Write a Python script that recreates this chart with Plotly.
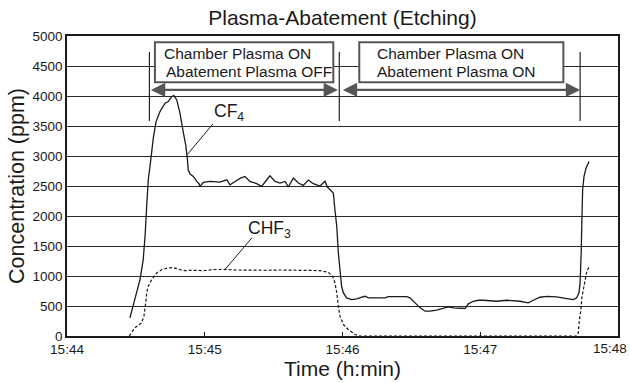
import plotly.graph_objects as go

# time in seconds after 15:44
cf4_t = [27.4, 31.8, 33.2, 34.0, 34.7, 35.4, 36.4, 37.6, 38.8, 40.5, 42.7, 44.1, 45.6, 46.6, 47.8,
         49.2, 50.6, 51.7, 52.4, 52.8, 53.6, 55.0, 56.5, 57.5,
         57.9, 59.4, 62.3, 66.6, 69.6, 71.0, 73.2, 75.6, 77.5, 79.7, 82.6, 84.8, 87.0, 88.4, 90.6,
         92.8, 95.0, 96.4, 98.6, 100.8, 102.9, 105.1, 107.3, 110.2, 112.4, 113.4, 114.6, 116.0,
         116.7, 117.5, 118.2, 118.9, 119.6, 120.4, 121.8, 124.0, 126.2, 128.4, 129.8, 131.3,
         134.9, 138.5, 140.0, 143.6, 148.0, 149.4, 151.6, 153.8, 156.0, 158.1, 161.0, 163.9,
         166.1, 168.3, 170.5, 173.4, 174.8, 177.0, 179.2, 181.3, 187.2, 191.5, 197.3, 200.9,
         203.1, 206.0, 209.0, 213.3, 217.7, 220.5, 222.0, 223.0, 223.5, 223.8, 224.0, 224.3,
         224.6, 225.2, 226.1, 227.4]
cf4_v = [303, 940, 1273, 1661, 2160, 2604, 2909, 3303, 3574, 3741, 3880, 3907, 3990, 4007, 3935,
         3714, 3408, 3187, 2965, 2771, 2699, 2659, 2576, 2538,
         2493, 2559, 2576, 2566, 2604, 2521, 2576, 2632, 2659, 2576, 2540, 2493, 2604, 2671, 2576,
         2549, 2576, 2483, 2632, 2549, 2510, 2600, 2538, 2500, 2580, 2483, 2438, 2383,
         2105, 1827, 1384, 1052, 829, 719, 636, 607, 618, 646, 662, 636,
         636, 636, 657, 657, 657, 636, 552, 469, 413, 413, 430, 458,
         486, 469, 469, 458, 536, 579, 596, 596, 579, 596, 579, 552,
         596, 646, 662, 652, 624, 607, 636, 719, 885, 1161, 1439, 1993,
         2438, 2659, 2799, 2909]

chf3_t = [27.1, 29.6, 32.5, 33.5, 34.3, 34.7, 35.4, 36.9, 39.1, 41.3, 44.1, 46.3, 49.2, 51.4,
          55.0, 59.4, 63.7, 68.1, 73.9, 81.2, 87.0, 92.8, 98.6, 104.4, 110.2, 113.8, 115.7,
          116.7, 117.5, 118.2, 118.9, 120.4, 122.5, 125.5, 127.6, 222.0, 222.7, 223.2, 223.8,
          224.3, 224.9, 225.6, 226.4, 227.4, 227.8]
chf3_v = [0, 136, 220, 330, 552, 719, 829, 940, 1052, 1107, 1135, 1140, 1107, 1090,
          1095, 1090, 1107, 1110, 1100, 1095, 1095, 1100, 1100, 1100, 1090, 1062, 995,
          885, 719, 496, 330, 191, 108, 25, 0, 0, 50, 275, 420,
          650, 760, 940, 1080, 1150, 1161]

x_tickvals = [0, 60, 120, 180, 240]
x_ticktext = ["15:44", "15:45", "15:46", "15:47", "15:48"]
y_tickvals = [0, 500, 1000, 1500, 2000, 2500, 3000, 3500, 4000, 4500, 5000]

event_times = [35.9, 118.6, 223.5]
phase_line1 = ["Chamber Plasma ON", "Chamber Plasma ON"]
phase_line2 = ["Abatement Plasma OFF", "Abatement Plasma ON"]

FONT = "Liberation Sans, Arial, sans-serif"
INK = "#1a1a1a"

fig = go.Figure()
fig.add_trace(go.Scatter(x=cf4_t, y=cf4_v, mode="lines",
                         line=dict(color=INK, width=1.3), showlegend=False))
fig.add_trace(go.Scatter(x=chf3_t, y=chf3_v, mode="lines",
                         line=dict(color=INK, width=1.2, dash="3px,2px"), showlegend=False))

shapes = []
for t in event_times:
    shapes.append(dict(type="line", xref="x", yref="y", x0=t, x1=t, y0=3585, y1=4734,
                       line=dict(color="#222", width=1.2)))
boxes = [(38.3, 116.0), (127.3, 216.2)]
for x0, x1 in boxes:
    shapes.append(dict(type="rect", xref="x", yref="y", x0=x0, x1=x1, y0=4230, y1=4896,
                       fillcolor="white", line=dict(color="#555", width=2), layer="above"))
shapes.append(dict(type="line", xref="x", yref="y", x0=63.6, y0=3536, x1=52.3, y1=3020,
                   line=dict(color="#222", width=1)))
shapes.append(dict(type="line", xref="x", yref="y", x0=80.6, y0=1639, x1=68.8, y1=1107,
                   line=dict(color="#222", width=1)))

annotations = []
arrow_spans = [(event_times[0], event_times[1] - 0.6), (event_times[1] + 0.9, event_times[2])]
for a, b in arrow_spans:
    annotations.append(dict(x=b, y=4101, ax=a, ay=4101, xref="x", yref="y", axref="x", ayref="y",
                            text="", showarrow=True, arrowhead=2, arrowside="end+start",
                            arrowsize=1.3, arrowwidth=2.2, arrowcolor="#555"))
for l1, l2, tx in zip(phase_line1, phase_line2, [41.2, 134.2]):
    annotations.append(dict(x=tx, y=4712, xref="x", yref="y", text=l1, showarrow=False,
                            xanchor="left", yanchor="middle",
                            font=dict(family=FONT, size=15.5, color=INK)))
    annotations.append(dict(x=tx + (1.0 if l2.endswith("OFF") else 0), y=4406, xref="x", yref="y",
                            text=l2, showarrow=False, xanchor="left", yanchor="middle",
                            font=dict(family=FONT, size=15.5, color=INK)))
annotations.append(dict(x=70.6, y=3720, xref="x", yref="y", text="CF<sub>4</sub>", showarrow=False,
                        xanchor="center", yanchor="middle", font=dict(family=FONT, size=17.5, color=INK)))
annotations.append(dict(x=88.4, y=1770, xref="x", yref="y", text="CHF<sub>3</sub>", showarrow=False,
                        xanchor="center", yanchor="middle", font=dict(family=FONT, size=17.5, color=INK)))
# last tick label kept inside the page
annotations.append(dict(x=x_tickvals[-1], y=0, xref="x", yref="y", text=x_ticktext[-1], showarrow=False,
                        xanchor="right", yanchor="top", xshift=11, yshift=-3,
                        font=dict(family=FONT, size=13.5, color=INK)))

fig.update_layout(
    width=630, height=383,
    margin=dict(l=67, r=12, t=36, b=46.5, autoexpand=False),
    paper_bgcolor="white", plot_bgcolor="white",
    font=dict(family=FONT, color=INK),
    title=dict(text="Plasma-Abatement (Etching)", x=0.5, xref="paper", y=0.953, yref="container",
               xanchor="center", yanchor="middle", font=dict(family=FONT, size=21, color=INK)),
    shapes=shapes, annotations=annotations,
)
fig.update_xaxes(range=[0, 240], tickvals=x_tickvals[:-1], ticktext=x_ticktext[:-1],
                 automargin=False,
                 showgrid=False, zeroline=False, showline=True, mirror=True,
                 linecolor=INK, linewidth=1.5, ticks="inside", ticklen=4, tickcolor=INK,
                 ticklabelstandoff=0,
                 tickfont=dict(family=FONT, size=13.5, color=INK),
                 title=dict(text="Time (h:min)", font=dict(family=FONT, size=21, color=INK), standoff=4))
fig.update_yaxes(range=[0, 5000], tickvals=y_tickvals, automargin=False,
                 showgrid=True, gridcolor="#2a2a2a", gridwidth=1.1, zeroline=False,
                 showline=True, mirror=True, linecolor=INK, linewidth=1.5, ticks="",
                 tickfont=dict(family=FONT, size=13.5, color=INK),
                 title=dict(text="Concentration (ppm)", font=dict(family=FONT, size=21.5, color=INK), standoff=2))

fig.write_html("out.html")
